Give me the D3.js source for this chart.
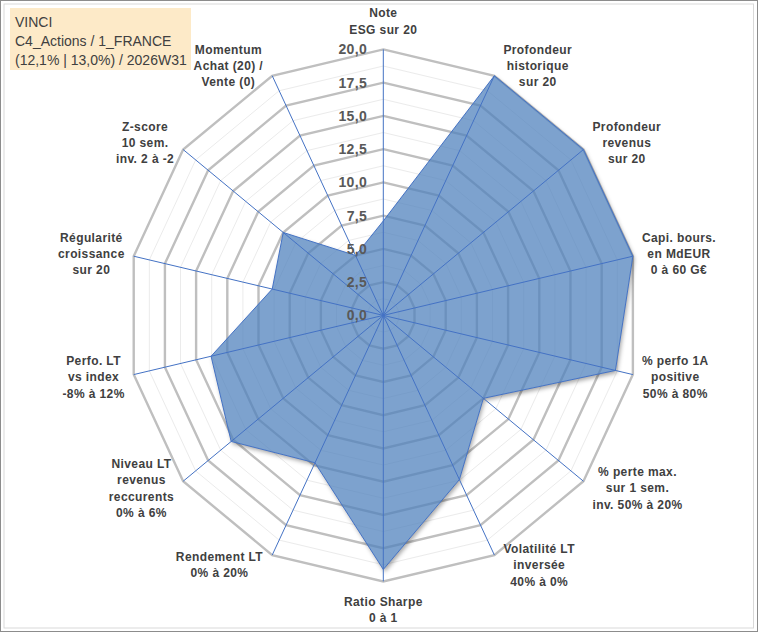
<!DOCTYPE html>
<html>
<head>
<meta charset="utf-8">
<script src="https://cdn.jsdelivr.net/npm/d3@7/dist/d3.min.js"></script>
<style>
  body { margin: 0; background: #fff; }
  svg { display: block; }
</style>
</head>
<body>
<svg id="chart"></svg>
<script>
const axisLabels = [
    ["Note", "ESG sur 20"],
    ["Profondeur", "historique", "sur 20"],
    ["Profondeur", "revenus", "sur 20"],
    ["Capi. bours.", "en MdEUR", "0 à 60 G€"],
    ["% perfo 1A", "positive", "50% à 80%"],
    ["% perte max.", "sur 1 sem.", "inv. 50% à 20%"],
    ["Volatilité LT", "inversée", "40% à 0%"],
    ["Ratio Sharpe", "0 à 1"],
    ["Rendement LT", "0% à 20%"],
    ["Niveau LT", "revenus", "reccurents", "0% à 6%"],
    ["Perfo. LT", "vs index", "-8% à 12%"],
    ["Régularité", "croissance", "sur 20"],
    ["Z-score", "10 sem.", "inv. 2 à -2"],
    ["Momentum", "Achat (20) /", "Vente (0)"]
];
const scores = [7.1, 20, 20, 20, 18.6, 10, 13.7, 19.1, 12.3, 15.2, 13.8, 8.9, 10, 5];
const tickValues = [0, 2.5, 5, 7.5, 10, 12.5, 15, 17.5, 20];
const tickLabels = ["0,0", "2,5", "5,0", "7,5", "10,0", "12,5", "15,0", "17,5", "20,0"];
const minorValues = [1.25, 3.75, 6.25, 8.75, 11.25, 13.75, 16.25, 18.75];
const titleLines = ["VINCI", "C4_Actions / 1_FRANCE", "(12,1% | 13,0%) / 2026W31"];

const W = 760, H = 633;
const cx = 383.3, cy = 315.4;
const n = axisLabels.length;

const svg = d3.select("#chart").attr("width", W).attr("height", H);

// frame
svg.append("rect").attr("x", 0.5).attr("y", 0.5).attr("width", 757).attr("height", 631)
    .attr("fill", "#fff").attr("stroke", "#8c8c8c");
svg.append("rect").attr("x", 4).attr("y", 4).attr("width", 749.5).attr("height", 624)
    .attr("fill", "none").attr("stroke", "#d9d9d9");

const rx = d3.scaleLinear().domain([0, 20]).range([0, 256]);
const ry = d3.scaleLinear().domain([0, 20]).range([0, 266]);
const angle = d3.scaleLinear().domain([0, n]).range([0, 2 * Math.PI]);

const pt = (i, v) => [cx + rx(v) * Math.sin(angle(i)), cy - ry(v) * Math.cos(angle(i))];
const ring = v => d3.range(n).map(i => pt(i, v));
const line = d3.line().curve(d3.curveLinearClosed);

const g = svg.append("g");

// grid rings
g.selectAll(".minor").data(minorValues).enter().append("path")
    .attr("d", v => line(ring(v)))
    .attr("fill", "none").attr("stroke", "#ebebeb").attr("stroke-width", 1);
g.selectAll(".major").data(tickValues.slice(1)).enter().append("path")
    .attr("d", v => line(ring(v)))
    .attr("fill", "none").attr("stroke", "#bfbfbf").attr("stroke-width", 2.4);

// shadow, kept outside the shape
const series = scores.map((v, i) => pt(i, v));
const defs = svg.append("defs");
defs.append("filter").attr("id", "blur").attr("x", "-10%").attr("y", "-10%")
    .attr("width", "120%").attr("height", "120%")
    .append("feGaussianBlur").attr("stdDeviation", 2.2);
const mask = defs.append("mask").attr("id", "outside");
mask.append("rect").attr("width", W).attr("height", H).attr("fill", "#fff");
mask.append("path").attr("d", line(series)).attr("fill", "#000");
g.append("g").attr("mask", "url(#outside)")
    .append("path").attr("d", line(series))
    .attr("transform", "translate(1.5,2.5)")
    .attr("fill", "#000").attr("fill-opacity", 0.35)
    .attr("filter", "url(#blur)");

// series
g.append("path").attr("d", line(series))
    .attr("fill", "#4f81bd").attr("fill-opacity", 0.74)
    .attr("stroke", "#4472c4").attr("stroke-width", 1);

// spokes
g.selectAll(".spoke").data(d3.range(n)).enter().append("line")
    .attr("x1", cx).attr("y1", cy)
    .attr("x2", i => pt(i, 20)[0]).attr("y2", i => pt(i, 20)[1])
    .attr("stroke", "#4472c4").attr("stroke-width", 1);

// radial tick labels
g.selectAll(".tick").data(tickValues).enter().append("text")
    .attr("x", cx - 16)
    .attr("y", v => cy - ry(v))
    .attr("dy", "0.36em")
    .attr("text-anchor", "end")
    .style("font-family", "'Liberation Sans', Arial, sans-serif")
    .style("font-size", "14px")
    .style("font-weight", "bold")
    .style("letter-spacing", "0.4px")
    .style("fill", "#595959")
    .text((v, i) => tickLabels[i]);

// axis labels
const lh = 16.3;
axisLabels.forEach((lines, i) => {
    const a = angle(i);
    const s = Math.sin(a), c = Math.cos(a);
    const end = pt(i, 20);
    const t = g.append("text")
        .attr("text-anchor", "middle")
        .style("font-family", "'Liberation Sans', Arial, sans-serif")
        .style("font-size", "12px")
        .style("font-weight", "bold")
        .style("letter-spacing", "0.4px")
        .style("fill", "#404040");
    lines.forEach((l, k) => t.append("tspan").attr("x", 0).attr("y", k * lh).text(l));
    const w = t.node().getBBox().width;
    const h = lines.length * lh;
    let ox, oy;
    if (Math.abs(s) < 0.1) {
        ox = 0;
        oy = -Math.sign(c) * (h / 2 + 12);
    } else {
        ox = Math.sign(s) * (w / 2 + 9);
        oy = -c * 11;
    }
    const mx = end[0] + ox, my = end[1] + oy;
    t.attr("transform", `translate(${mx},${my - h / 2 + lh / 2 + 4.3})`);
});

// title box
const tb = svg.append("g");
tb.append("rect").attr("x", 10).attr("y", 8).attr("width", 181).attr("height", 62)
    .attr("fill", "#fdeac8");
tb.selectAll("text").data(titleLines).enter().append("text")
    .attr("x", 15)
    .attr("y", (d, i) => 26.5 + i * 19.2)
    .style("font-family", "'Liberation Sans', Arial, sans-serif")
    .style("font-size", "14px")
    .style("fill", "#404040")
    .text(d => d);
</script>
</body>
</html>
